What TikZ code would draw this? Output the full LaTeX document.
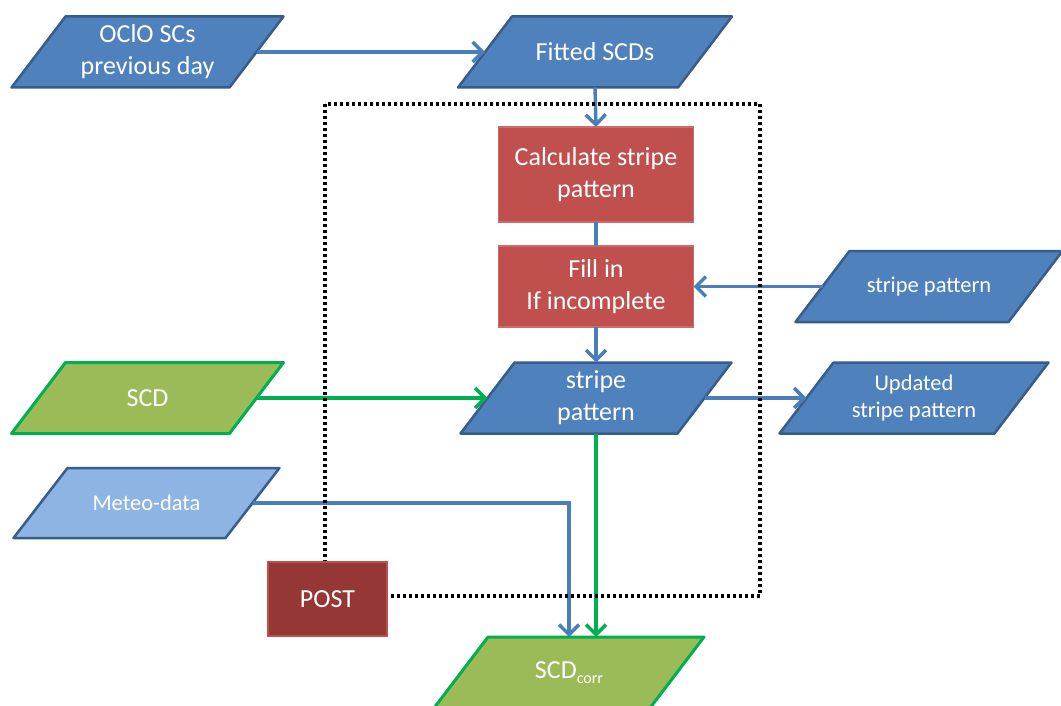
\documentclass[tikz,border=0pt]{standalone}
\usepackage{fontspec}
\setmainfont{Carlito}
\usetikzlibrary{arrows.meta,backgrounds}
\definecolor{pblue}{HTML}{4F81BD}
\definecolor{pblueline}{HTML}{385D8A}
\definecolor{lblue}{HTML}{8EB4E3}
\definecolor{pred}{HTML}{C0504D}
\definecolor{predline}{HTML}{CD6B68}
\definecolor{dred}{HTML}{953735}
\definecolor{pgreen}{HTML}{9BBB59}
\definecolor{lgreen}{HTML}{00B050}
\definecolor{ablue}{HTML}{4A7EBB}
\newcommand\bigfont{\fontsize{26}{32}\selectfont}
\newcommand\smlfont{\fontsize{22.5}{27.5}\selectfont}
\newcommand\pshape[2]{\path[#2] ([xshift=27pt]#1.north west) -- ([xshift=27pt]#1.north east) -- ([xshift=-27pt]#1.south east) -- ([xshift=-27pt]#1.south west) -- cycle;}
\begin{document}
\begin{tikzpicture}[x=1pt,y=-1pt,
  pnode/.style={rectangle, inner sep=0pt, outer sep=0pt, minimum height=71pt, text=white, align=center},
  rbox/.style={rectangle, inner sep=0pt, outer sep=0pt, text=white, align=center, font=\bigfont, fill=pred, draw=predline, line width=1.2pt},
  bshape/.style={fill=pblue, draw=pblueline, line width=2.5pt, line join=round},
  lshape/.style={fill=lblue, draw=pblueline, line width=2.5pt, line join=round},
  gshape/.style={fill=pgreen, draw=lgreen, line width=3pt, line join=round},
  barrow/.style={draw=ablue, line width=3.4pt, -{Straight Barb[length=10pt,width=20pt]}},
  bline/.style={draw=ablue, line width=3.4pt},
  garrow/.style={draw=lgreen, line width=3.4pt, -{Straight Barb[length=10pt,width=20pt]}},
  frame/.style={draw=black, line width=3.2pt, dash pattern=on 3pt off 3pt}
]
\useasboundingbox (0,0) rectangle (1061,706);

% nodes
\node[pnode, minimum width=218pt, font=\bigfont] (oclo) at (147.5,52) {OClO SCs\\previous day};
\node[pnode, minimum width=220pt, font=\bigfont] (fitted) at (595,52) {Fitted SCDs};
\node[rbox, minimum width=195pt, minimum height=95pt] (calc) at (596,174.5) {Calculate stripe\\pattern};
\node[rbox, minimum width=195pt, minimum height=81pt] (fill) at (596,286.5) {Fill in\\If incomplete};
\node[pnode, minimum width=213pt, font=\smlfont] (stripeR) at (929,286.5) {stripe pattern};
\node[pnode, minimum width=217pt, font=\bigfont] (stripeM) at (596,398) {stripe\\pattern};
\node[pnode, minimum width=218pt, font=\bigfont] (scd) at (147.5,398) {SCD};
\node[pnode, minimum width=215pt, font=\smlfont] (updated) at (914,398) {Updated\\stripe pattern};
\node[pnode, minimum width=212pt, minimum height=70pt, font=\smlfont] (meteo) at (146.5,503) {Meteo-data};
\node[pnode, minimum width=216pt, font=\bigfont] (corr) at (569,672.5) {SCD\raisebox{-5pt}{\fontsize{16}{16}\selectfont corr}};

% shapes behind
\begin{scope}[on background layer]
\fill[white] (0,0) rectangle (1061,706);
\pshape{oclo}{bshape}
\pshape{fitted}{bshape}
\pshape{stripeR}{bshape}
\pshape{stripeM}{bshape}
\pshape{updated}{bshape}
\pshape{meteo}{lshape}
\pshape{scd}{gshape}
\pshape{corr}{gshape}
\end{scope}

% connectors
\draw[barrow] (oclo.east) -- (fitted.west);
\draw[barrow] (fitted.south) -- (calc.north);
\draw[bline] (calc.south) -- (fill.north);
\draw[barrow] (stripeR.west) -- (fill.east);
\draw[barrow] (fill.south) -- (stripeM.north);
\draw[garrow] (scd.east) -- (stripeM.west);
\draw[barrow] (stripeM.east) -- (updated.west);
\draw[barrow] (meteo.east) -| (corr.north);
\draw[garrow] (stripeM.south) -- (stripeM.south |- corr.north);

% dotted frame
\draw[frame] (325,104) rectangle (760,596);

\node[rbox, fill=dred, draw=pred, line width=2.5pt, minimum width=119pt, minimum height=74pt] (post) at (327.5,599) {POST};
\end{tikzpicture}
\end{document}
